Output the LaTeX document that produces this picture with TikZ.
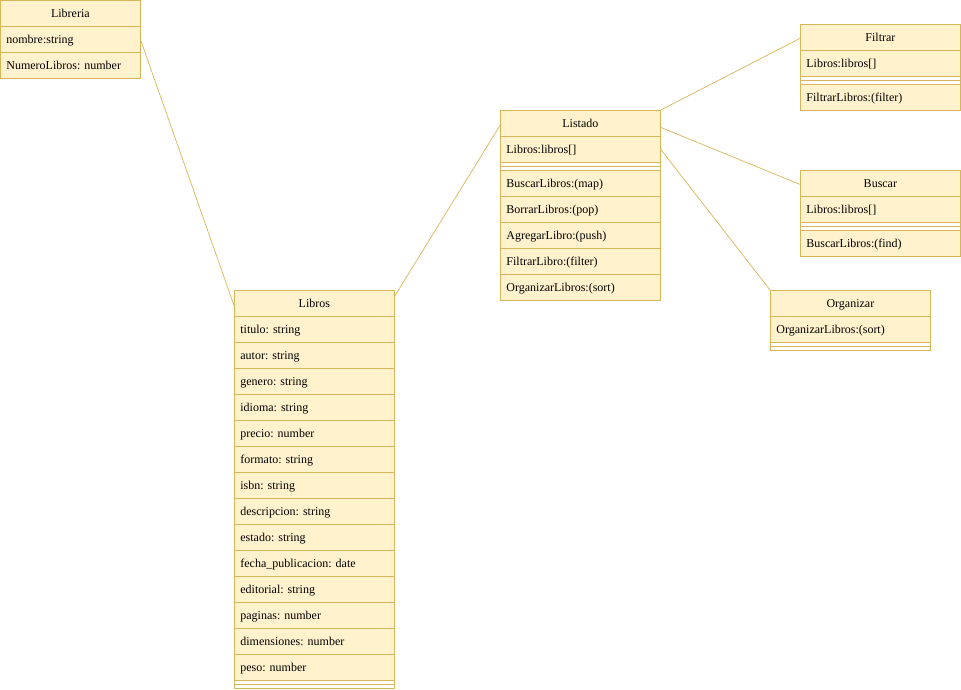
\documentclass[tikz,border=0pt]{standalone}
\usepackage{fontspec}
\setmainfont{Liberation Serif}
\definecolor{bg}{HTML}{FFF2CC}
\definecolor{ln}{HTML}{D6B656}
\frenchspacing
\begin{document}
\begin{tikzpicture}[x=1pt,y=-1pt,
  cell/.style={draw=ln, fill=bg, line width=0.8pt, anchor=north west,
    minimum height=26pt, inner ysep=0pt, inner xsep=6pt,
    text height=9.5pt, text depth=1.5pt,
    font=\fontsize{12}{14}\selectfont},
  hdr/.style={cell, align=center, text width=#1},
  hdr/.default=148pt,
  row/.style={cell, align=left, text width=#1},
  row/.default=148pt,
  sepbox/.style={draw=ln, line width=0.8pt, anchor=north west,
    minimum height=8pt, minimum width=#1, inner sep=0pt},
  sepbox/.default=160pt,
  sepline/.style={draw=ln, line width=0.8pt},
  conn/.style={draw=ln, line width=0.7pt}]
\useasboundingbox (0,0) rectangle (961,689);

% Libreria
\node[hdr=128pt] (libreriaH) at (0,0) {Libreria};
\node[row=128pt] (libreriaA) at (0,26) {nombre:string};
\node[row=128pt] (libreriaB) at (0,52) {NumeroLibros: number};

% Libros
\node[hdr] (librosH) at (234,290) {Libros};
\foreach \t [count=\i] in {titulo: string, autor: string, genero: string,
  idioma: string, precio: number, formato: string, isbn: string,
  descripcion: string, estado: string, fecha\_publicacion: date,
  editorial: string, paginas: number, dimensiones: number, peso: number}
  \node[row] (libros\i) at (234,{290+26*\i}) {\t};
\node[sepbox] (librosS) at (234,680) {};
\draw[sepline] (librosS.west) -- (librosS.east);

% Listado
\node[hdr] (listadoH) at (500,110) {Listado};
\node[row] (listadoA) at (500,136) {Libros:libros[]};
\node[sepbox] (listadoS) at (500,162) {};
\draw[sepline] (listadoS.west) -- (listadoS.east);
\foreach \t [count=\i] in {BuscarLibros:(map), BorrarLibros:(pop),
  AgregarLibro:(push), FiltrarLibro:(filter), OrganizarLibros:(sort)}
  \node[row] (listadoM\i) at (500,{144+26*\i}) {\t};

% Filtrar
\node[hdr] (filtrarH) at (800,24) {Filtrar};
\node[row] (filtrarA) at (800,50) {Libros:libros[]};
\node[sepbox] (filtrarS) at (800,76) {};
\draw[sepline] (filtrarS.west) -- (filtrarS.east);
\node[row] (filtrarM) at (800,84) {FiltrarLibros:(filter)};

% Buscar
\node[hdr] (buscarH) at (800,170) {Buscar};
\node[row] (buscarA) at (800,196) {Libros:libros[]};
\node[sepbox] (buscarS) at (800,222) {};
\draw[sepline] (buscarS.west) -- (buscarS.east);
\node[row] (buscarM) at (800,230) {BuscarLibros:(find)};

% Organizar
\node[hdr] (organizarH) at (770,290) {Organizar};
\node[row] (organizarM) at (770,316) {OrganizarLibros:(sort)};
\node[sepbox] (organizarS) at (770,342) {};
\draw[sepline] (organizarS.west) -- (organizarS.east);

% Associations
\draw[conn] ([yshift=-1pt]libreriaA.east) -- ([yshift=-2pt]librosH.west);
\draw[conn] ([yshift=-6pt]librosH.north east) -- ([yshift=-2pt]listadoH.west);
\draw[conn] (listadoH.north east) -- ([yshift=-1pt]filtrarH.west);
\draw[conn] ([yshift=-4pt]listadoH.east) -- ([yshift=-1pt]buscarH.west);
\draw[conn] (listadoA.east) -- (organizarH.north west);
\end{tikzpicture}
\end{document}
